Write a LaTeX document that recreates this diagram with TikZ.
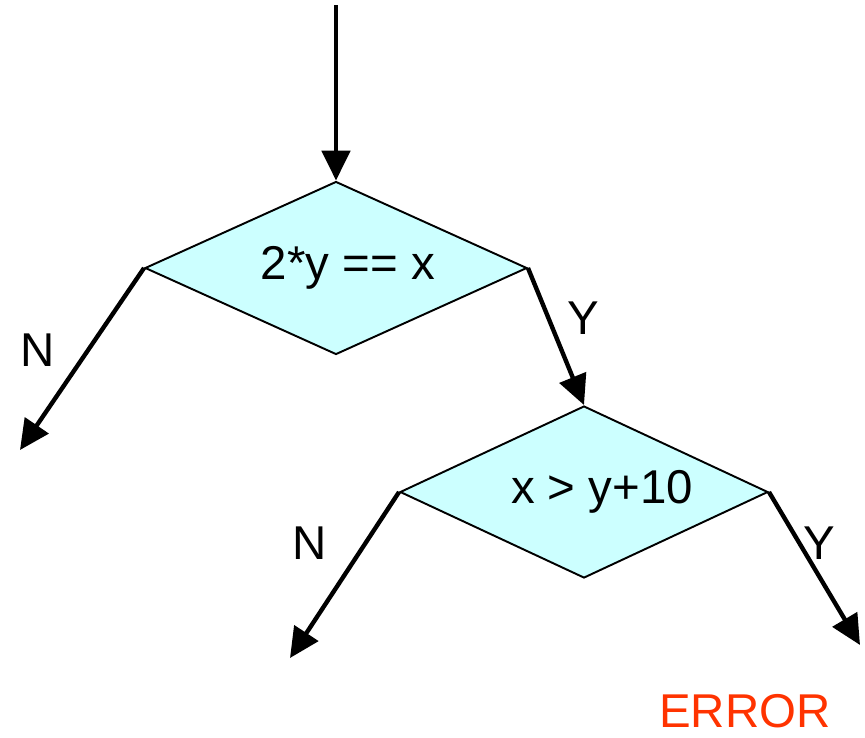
\documentclass[tikz,border=0pt]{standalone}
\usepackage{fontspec}
\setmainfont{Liberation Sans}
\usetikzlibrary{shapes.geometric, arrows.meta, positioning, calc}
\definecolor{decfill}{HTML}{CCFFFF}
\definecolor{errred}{HTML}{FF3300}

\begin{document}
\begin{tikzpicture}[font=\fontsize{27}{32}\selectfont]
    \tikzstyle{decision} = [diamond, draw=black, line width=1.1pt, fill=decfill, inner sep=0pt]
    \tikzstyle{arrow} = [line width=2.5pt, -{Triangle[length=17pt, width=16pt]}]
    \useasboundingbox (0,0) rectangle (17.3,-14.74);

    \node (cond1) [decision, minimum width=7.64cm, minimum height=3.46cm] at (6.72,-5.36) {};
    \node (text1) at ([xshift=0.24cm]cond1.center) {2*y == x};
    \node (cond2) [decision, minimum width=7.36cm, minimum height=3.44cm] at (11.68,-9.84) {};
    \node (text2) at ([xshift=0.36cm]cond2.center) {x > y+10};

    \coordinate (entry) at (6.72,-0.1);
    \coordinate (no1) at (0.4,-9.0);
    \coordinate (no2) at (5.8,-13.16);
    \coordinate (yes2) at (17.2,-12.9);

    \draw [arrow] (entry) -- (cond1.north);
    \draw [arrow] (cond1.west) -- (no1);
    \draw [arrow] (cond1.east) -- (cond2.north);
    \draw [arrow] (cond2.west) -- (no2);
    \draw [arrow] (cond2.east) -- (yes2);

    \node (lbln1) at (0.76,-7.0) {N};
    \node (lbly1) at (11.66,-6.36) {Y};
    \node (lbln2) at (6.2,-10.86) {N};
    \node (lbly2) at (16.38,-10.86) {Y};
    \node (error) [text=errred, inner sep=0pt] at (14.9,-14.22) {ERROR};
\end{tikzpicture}
\end{document}
